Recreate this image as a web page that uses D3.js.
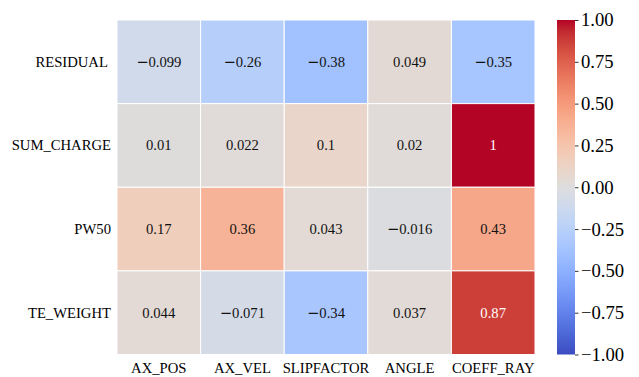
<!DOCTYPE html>
<html>
<head>
<meta charset="utf-8">
<script src="https://cdn.jsdelivr.net/npm/d3@7"></script>
<style>
  html, body { margin: 0; padding: 0; background: #fff; }
  svg { display: block; font-family: "Liberation Serif", "Times New Roman", serif; }
</style>
</head>
<body>
<svg id="chart" width="639" height="377"></svg>
<script>
// Correlation matrix: rows are target variables, columns are inputs
const rowLabels = ["RESIDUAL ", "SUM_CHARGE", "PW50", "TE_WEIGHT"];
const colLabels = ["AX_POS", "AX_VEL", "SLIPFACTOR", "ANGLE", "COEFF_RAY"];
const residual  = [-0.099, -0.26, -0.38, 0.049, -0.35];
const sumCharge = [0.01, 0.022, 0.1, 0.02, 1];
const pw50      = [0.17, 0.36, 0.043, -0.016, 0.43];
const teWeight  = [0.044, -0.071, -0.34, 0.037, 0.87];
const matrix = [residual, sumCharge, pw50, teWeight];
const colorbarTicks = [-1.0, -0.75, -0.5, -0.25, 0.0, 0.25, 0.5, 0.75, 1.0];

// Moreland "cool to warm" diverging colour map
const coolwarmStops = [
  [59,76,192],[68,90,204],[77,104,215],[87,117,225],[98,130,234],[108,142,241],
  [119,154,247],[130,165,251],[141,176,254],[152,185,255],[163,194,255],[174,201,253],
  [184,208,249],[194,213,244],[204,217,238],[213,219,230],[221,221,221],[229,216,209],
  [236,211,197],[241,204,185],[245,196,173],[247,187,160],[247,177,148],[247,166,135],
  [244,154,123],[241,141,111],[236,127,99],[229,112,88],[222,96,77],[213,80,66],
  [203,62,56],[192,40,47],[180,4,38]
].map(c => d3.rgb(c[0], c[1], c[2]).toString());
const coolwarm = d3.piecewise(d3.interpolateRgb, coolwarmStops);
const color = d3.scaleSequential(coolwarm).domain([-1, 1]);

const svg = d3.select("#chart");
const plot = { left: 117, top: 20, right: 535, bottom: 354.5 };

const x = d3.scaleBand().domain(colLabels).range([plot.left, plot.right]).padding(0);
const y = d3.scaleBand().domain(rowLabels).range([plot.top, plot.bottom]).padding(0);

const cells = [];
matrix.forEach((row, i) => row.forEach((v, j) => cells.push({ r: rowLabels[i], c: colLabels[j], v })));

// Luminance test used to pick dark or light annotation text
function lum(c) {
  const rgb = d3.rgb(c);
  const f = u => { u /= 255; return u <= 0.03928 ? u / 12.92 : Math.pow((u + 0.055) / 1.055, 2.4); };
  return 0.2126 * f(rgb.r) + 0.7152 * f(rgb.g) + 0.0722 * f(rgb.b);
}

const g = svg.append("g");
g.selectAll("rect.cell").data(cells).join("rect")
  .attr("class", "cell")
  .attr("x", d => x(d.c))
  .attr("y", d => y(d.r))
  .attr("width", x.bandwidth())
  .attr("height", y.bandwidth())
  .attr("fill", d => color(d.v))
  .attr("stroke", "#ffffff")
  .attr("stroke-width", 1);

// Cell annotations; the minus sign is set in a sans face
const annot = g.selectAll("text.annot").data(cells).join("text")
  .attr("class", "annot")
  .attr("x", d => x(d.c) + x.bandwidth() / 2)
  .attr("y", d => y(d.r) + y.bandwidth() / 2)
  .attr("dy", "0.33em")
  .attr("text-anchor", "middle")
  .attr("font-size", "14.67px")
  .attr("fill", d => lum(color(d.v)) > 0.408 ? "#111111" : "#ffffff");
annot.each(function (d) {
  const t = d3.select(this);
  if (d.v < 0) {
    t.append("tspan").attr("font-family", "DejaVu Sans").text("\u2212");
    t.append("tspan").text(String(-d.v));
  } else {
    t.append("tspan").text(String(d.v));
  }
});

// Row labels
svg.append("g").selectAll("text").data(rowLabels).join("text")
  .attr("x", 111)
  .attr("y", d => y(d) + y.bandwidth() / 2)
  .attr("dy", "0.33em")
  .attr("text-anchor", "end")
  .attr("font-size", "14.67px")
  .attr("fill", "#000")
  .style("white-space", "pre")
  .text(d => d);

// Column labels
svg.append("g").selectAll("text").data(colLabels).join("text")
  .attr("x", d => x(d) + x.bandwidth() / 2)
  .attr("y", 373)
  .attr("text-anchor", "middle")
  .attr("font-size", "14.67px")
  .attr("fill", "#000")
  .text(d => d);

// Colour bar
const cb = { x: 557, w: 18, top: 20, bottom: 354.5 };
const cbScale = d3.scaleLinear().domain([-1, 1]).range([cb.bottom, cb.top]);
const defs = svg.append("defs");
const grad = defs.append("linearGradient").attr("id", "cbgrad")
  .attr("x1", 0).attr("y1", 1).attr("x2", 0).attr("y2", 0);
d3.range(0, 65).forEach(k => {
  const t = k / 64;
  grad.append("stop").attr("offset", t).attr("stop-color", color(-1 + 2 * t));
});
svg.append("rect")
  .attr("x", cb.x).attr("y", cb.top)
  .attr("width", cb.w).attr("height", cb.bottom - cb.top)
  .attr("fill", "url(#cbgrad)");

const cbAxis = d3.axisRight(cbScale)
  .tickValues(colorbarTicks)
  .tickSize(3.5)
  .tickPadding(2.5)
  .tickFormat(v => d3.format(".2f")(v).replace("-", "\u2212"));
const cbG = svg.append("g").attr("transform", `translate(${cb.x + cb.w},0)`).call(cbAxis);
cbG.select(".domain").remove();
cbG.selectAll(".tick line").attr("stroke", "#000").attr("stroke-width", 0.8);
cbG.selectAll(".tick text")
  .attr("font-family", "Liberation Serif, Times New Roman, serif")
  .attr("font-size", "18.67px")
  .attr("fill", "#000");
</script>
</body>
</html>
